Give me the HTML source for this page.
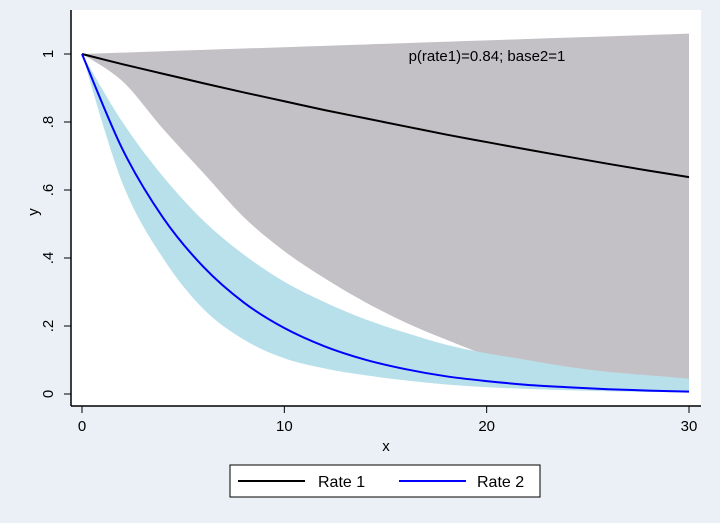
<!DOCTYPE html>
<html><head><meta charset="utf-8"><style>
body{margin:0;background:#eaf0f5;}
svg{display:block;font-family:"Liberation Sans",Arial,sans-serif;}
</style></head><body>
<svg id="chart" width="720" height="523">
<rect x="0" y="0" width="720" height="523" fill="#eaf0f5"/>
<rect x="71" y="10" width="630" height="396" fill="#ffffff"/>
<g id="marks"></g>
<line x1="71" y1="10" x2="71" y2="406" stroke="#000" stroke-width="1.5"/>
<line x1="71" y1="406" x2="701" y2="406" stroke="#000" stroke-width="1.5"/>
<g id="ticks"></g>
<text x="386" y="451" font-size="15" text-anchor="middle">x</text>
<text x="38" y="212" font-size="15" text-anchor="middle" transform="rotate(-90 38 212)">y</text>
<text x="487" y="61" font-size="15" text-anchor="middle">p(rate1)=0.84; base2=1</text>
<g>
<rect x="230" y="465" width="310" height="32" fill="#fff" stroke="#000" stroke-width="1"/>
<line x1="238" y1="481" x2="305" y2="481" stroke="#000" stroke-width="2"/>
<text x="318" y="487" font-size="16">Rate 1</text>
<line x1="399" y1="481" x2="466" y2="481" stroke="#0000ff" stroke-width="2"/>
<text x="477" y="487" font-size="16">Rate 2</text>
</g>
</svg>
<script>
const xs = [0,2,4,6,8,10,12,14,16,18,20,22,24,26,28,30];
const rate1 = [1,.970,.942,.914,.887,.861,.835,.811,.787,.763,.741,.719,.698,.677,.657,.638];
const rate2 = [1,.72,.519,.374,.269,.194,.140,.101,.073,.052,.038,.027,.020,.014,.010,.007];
const band1Upper = [1,1.004,1.008,1.012,1.016,1.020,1.024,1.028,1.032,1.036,1.040,1.044,1.048,1.052,1.056,1.060];
const band1Lower = [1,.92,.78,.65,.52,.42,.34,.27,.21,.16,.115,.09,.07,.055,.045,.04];
const band2Upper = [1,.80,.64,.51,.41,.33,.27,.22,.18,.145,.12,.10,.08,.065,.055,.045];
const band2Lower = [1,.62,.40,.25,.16,.105,.075,.055,.04,.028,.02,.015,.011,.008,.006,.005];
const xTicks = [0,10,20,30];
const yTicks = [0,.2,.4,.6,.8,1];
const yTickLabels = ["0",".2",".4",".6",".8","1"];

const NS="http://www.w3.org/2000/svg";
const X=v=>82+v*(689-82)/30;
const Y=v=>394-v*340;
const marks=document.getElementById('marks');
const ticks=document.getElementById('ticks');
function smooth(pts,start){
  let d=(start?'M':'L')+pts[0][0]+','+pts[0][1];
  for(let i=0;i<pts.length-1;i++){
    const p0=pts[Math.max(i-1,0)],p1=pts[i],p2=pts[i+1],p3=pts[Math.min(i+2,pts.length-1)];
    const c1=[p1[0]+(p2[0]-p0[0])/6,p1[1]+(p2[1]-p0[1])/6];
    const c2=[p2[0]-(p3[0]-p1[0])/6,p2[1]-(p3[1]-p1[1])/6];
    d+='C'+c1+' '+c2+' '+p2;
  }
  return d;
}
function band(up,lo,fill,name){
  const a=xs.map((x,i)=>[X(x),Y(up[i])]);
  const b=xs.map((x,i)=>[X(x),Y(lo[i])]).reverse();
  const p=document.createElementNS(NS,'path');
  p.setAttribute('d',smooth(a,true)+smooth(b,false)+'Z');p.setAttribute('fill',fill);
  
  
  marks.appendChild(p);
}
function line(vals,col,name){
  const p=document.createElementNS(NS,'path');
  p.setAttribute('d',smooth(xs.map((x,i)=>[X(x),Y(vals[i])]),true));
  p.setAttribute('fill','none');p.setAttribute('stroke',col);p.setAttribute('stroke-width','2');
  
  
  marks.appendChild(p);
}
band(band1Upper,band1Lower,'#c3c1c6','rate-1-ci-band');
band(band2Upper,band2Lower,'#b8e0ea','rate-2-ci-band');
line(rate1,'#000000','rate-1-line');
line(rate2,'#0000ff','rate-2-line');
xTicks.forEach(t=>{
  const l=document.createElementNS(NS,'line');
  l.setAttribute('x1',X(t));l.setAttribute('x2',X(t));l.setAttribute('y1',406);l.setAttribute('y2',413);l.setAttribute('stroke','#000');
  
  
  ticks.appendChild(l);
  const s=document.createElementNS(NS,'text');
  s.setAttribute('x',X(t));s.setAttribute('y',431);s.setAttribute('font-size','15');s.setAttribute('text-anchor','middle');
  s.textContent=t;
  
  
  ticks.appendChild(s);
});
yTicks.forEach((t,i)=>{
  const l=document.createElementNS(NS,'line');
  l.setAttribute('x1',64);l.setAttribute('x2',71);l.setAttribute('y1',Y(t));l.setAttribute('y2',Y(t));l.setAttribute('stroke','#000');
  
  
  ticks.appendChild(l);
  const s=document.createElementNS(NS,'text');
  s.setAttribute('x',53);s.setAttribute('y',Y(t));s.setAttribute('font-size','15');s.setAttribute('text-anchor','middle');
  s.setAttribute('transform','rotate(-90 53 '+Y(t)+')');
  s.textContent=yTickLabels[i];
  
  
  ticks.appendChild(s);
});
</script>
</body></html>
